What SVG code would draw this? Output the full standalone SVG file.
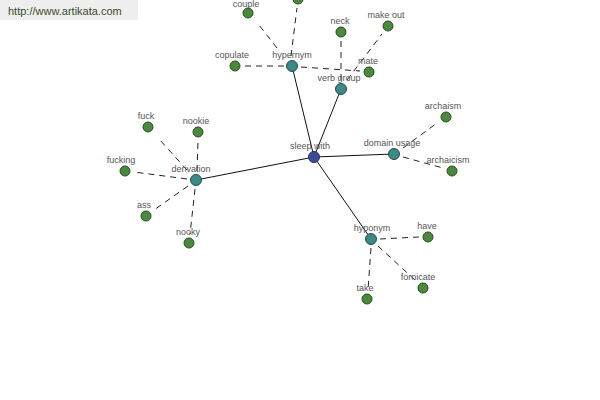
<svg xmlns="http://www.w3.org/2000/svg" width="600" height="400" viewBox="0 0 600 400">
<style>
text{font-family:"Liberation Sans",Arial,sans-serif;font-size:9px;fill:#555;text-anchor:middle}
.wm{font-size:11px;fill:#3a4a2a;text-anchor:start}
.d{stroke:#222;stroke-width:1;stroke-dasharray:6,5;fill:none}
.s{stroke:#111;stroke-width:1;fill:none}
.leaf{fill:#4a8a3c;stroke:#2a4a22;stroke-width:1}
.hub{fill:#3a8a88;stroke:#2a4a4a;stroke-width:1}
.root{fill:#3c4c9c;stroke:#223060;stroke-width:1}
</style>
<rect width="600" height="400" fill="#fff"/>
<rect x="0" y="0" width="138" height="20" fill="#eeeeee"/>
<text class="wm" x="8" y="15">http://www.artikata.com</text>
<g id="connectors">
<line class="s" x1="314" y1="157" x2="292" y2="66"/>
<line class="s" x1="314" y1="157" x2="341" y2="89"/>
<line class="s" x1="314" y1="157" x2="394" y2="154"/>
<line class="s" x1="314" y1="157" x2="196" y2="180"/>
<line class="s" x1="314" y1="157" x2="371" y2="239"/>
<line class="d" x1="277" y1="48" x2="259" y2="25"/>
<line class="d" x1="291" y1="56" x2="297" y2="8"/>
<line class="d" x1="284" y1="66" x2="244" y2="66"/>
<line class="d" x1="301" y1="67" x2="360" y2="71"/>
<line class="d" x1="341" y1="80" x2="341" y2="41"/>
<line class="d" x1="347" y1="80" x2="382" y2="34"/>
<line class="d" x1="403" y1="148" x2="437" y2="123"/>
<line class="d" x1="403" y1="157" x2="443" y2="168"/>
<line class="d" x1="187" y1="170" x2="159" y2="139"/>
<line class="d" x1="197" y1="171" x2="198" y2="141"/>
<line class="d" x1="187" y1="179" x2="134" y2="172"/>
<line class="d" x1="188" y1="186" x2="154" y2="210"/>
<line class="d" x1="195" y1="189" x2="190" y2="234"/>
<line class="d" x1="380" y1="239" x2="419" y2="237"/>
<line class="d" x1="378" y1="246" x2="416" y2="281"/>
<line class="d" x1="371" y1="248" x2="368" y2="290"/>
</g>
<g id="n-sleep-with"><circle class="root" cx="314" cy="157" r="5.5"/><text x="310" y="149">sleep with</text></g>
<g id="n-hypernym"><circle class="hub" cx="292" cy="66" r="5.5"/><text x="292" y="58">hypernym</text></g>
<g id="n-verb-group"><circle class="hub" cx="341" cy="89" r="5.5"/><text x="339" y="81">verb group</text></g>
<g id="n-domain-usage"><circle class="hub" cx="394" cy="154" r="5.5"/><text x="392" y="146">domain usage</text></g>
<g id="n-derivation"><circle class="hub" cx="196" cy="180" r="5.5"/><text x="191" y="172">derivation</text></g>
<g id="n-hyponym"><circle class="hub" cx="371" cy="239" r="5.5"/><text x="372" y="231">hyponym</text></g>
<g id="n-couple"><circle class="leaf" cx="248" cy="13" r="5"/><text x="246" y="7">couple</text></g>
<g id="n-top"><circle class="leaf" cx="298" cy="-1" r="5"/></g>
<g id="n-copulate"><circle class="leaf" cx="235" cy="66" r="5"/><text x="232" y="58">copulate</text></g>
<g id="n-neck"><circle class="leaf" cx="341" cy="32" r="5"/><text x="340" y="24">neck</text></g>
<g id="n-make-out"><circle class="leaf" cx="388" cy="26" r="5"/><text x="386" y="18">make out</text></g>
<g id="n-mate"><circle class="leaf" cx="369" cy="72" r="5"/><text x="368" y="64">mate</text></g>
<g id="n-archaism"><circle class="leaf" cx="446" cy="117" r="5"/><text x="443" y="109">archaism</text></g>
<g id="n-archaicism"><circle class="leaf" cx="452" cy="171" r="5"/><text x="448" y="163">archaicism</text></g>
<g id="n-fuck"><circle class="leaf" cx="148" cy="127" r="5"/><text x="146" y="119">fuck</text></g>
<g id="n-nookie"><circle class="leaf" cx="198" cy="132" r="5"/><text x="196" y="124">nookie</text></g>
<g id="n-fucking"><circle class="leaf" cx="125" cy="171" r="5"/><text x="121" y="163">fucking</text></g>
<g id="n-ass"><circle class="leaf" cx="146" cy="216" r="5"/><text x="144" y="208">ass</text></g>
<g id="n-nooky"><circle class="leaf" cx="189" cy="243" r="5"/><text x="188" y="235">nooky</text></g>
<g id="n-have"><circle class="leaf" cx="428" cy="237" r="5"/><text x="427" y="229">have</text></g>
<g id="n-fornicate"><circle class="leaf" cx="423" cy="288" r="5"/><text x="418" y="280">fornicate</text></g>
<g id="n-take"><circle class="leaf" cx="367" cy="299" r="5"/><text x="365" y="291">take</text></g>
</svg>
